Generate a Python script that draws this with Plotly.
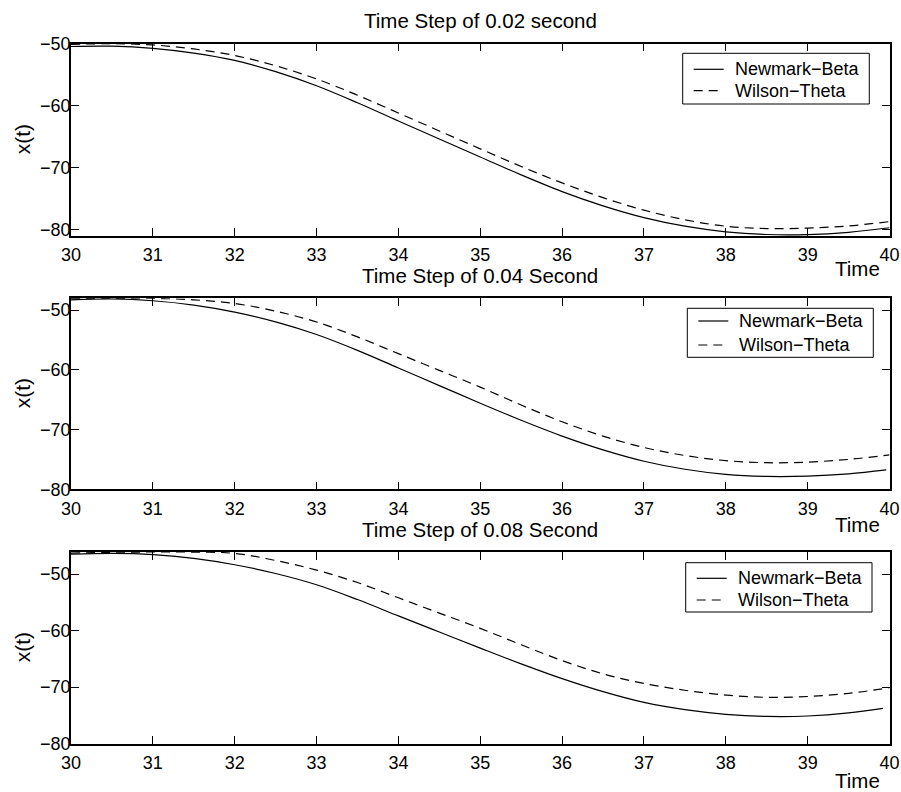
import plotly.graph_objects as go

# Time samples (s) at which the responses are tabulated
t = [30.0, 30.5, 31.0, 31.5, 32.0, 32.5, 33.0, 33.5, 34.0, 34.5, 35.0,
     35.5, 36.0, 36.5, 37.0, 37.5, 38.0, 38.5, 39.0, 39.5, 40.0]

# dt = 0.02 s
newmark_002 = [-50.45, -50.4, -50.75, -51.52, -52.7, -54.51, -56.8, -59.55, -62.5, -65.4, -68.3,
               -71.2, -73.9, -76.2, -78.1, -79.49, -80.4, -80.84, -80.85, -80.49, -79.75]
wilson_002 = [-50.1, -50.0, -50.2, -50.85, -51.9, -53.56, -55.7, -58.32, -61.2, -64.1, -67.0,
              -69.84, -72.5, -74.88, -76.9, -78.46, -79.5, -79.88, -79.8, -79.45, -78.75]

# dt = 0.04 s
t_nb_004 = [30.0, 30.5, 31.0, 31.5, 32.0, 32.5, 33.0, 33.5, 34.0, 34.5, 35.0,
            35.5, 36.0, 36.5, 37.0, 37.5, 38.0, 38.5, 39.0, 39.5, 39.96]
newmark_004 = [-48.3, -48.15, -48.45, -49.18, -50.35, -51.99, -54.1, -56.75, -59.7, -62.65, -65.6,
               -68.45, -71.1, -73.4, -75.3, -76.64, -77.5, -77.85, -77.8, -77.42, -76.75]
wilson_004 = [-48.1, -48.05, -48.05, -48.3, -48.9, -50.2, -52.0, -54.5, -57.3, -60.1, -62.9,
              -65.9, -68.7, -71.1, -73.0, -74.35, -75.2, -75.55, -75.45, -75.0, -74.25]

# dt = 0.08 s
t_nb_008 = [30.0, 30.5, 31.0, 31.5, 32.0, 32.5, 33.0, 33.5, 34.0, 34.5, 35.0,
            35.5, 36.0, 36.5, 37.0, 37.5, 38.0, 38.5, 39.0, 39.5, 39.92]
newmark_008 = [-46.5, -46.35, -46.55, -47.23, -48.35, -49.9, -51.9, -54.51, -57.4, -60.25, -63.1,
               -65.89, -68.5, -70.8, -72.7, -73.99, -74.8, -75.17, -75.1, -74.56, -73.75]
wilson_008 = [-46.3, -46.15, -46.1, -46.12, -46.35, -47.6, -49.3, -51.5, -54.2, -56.9, -59.6,
              -62.5, -65.3, -67.65, -69.35, -70.55, -71.4, -71.8, -71.65, -71.1, -70.1]

titles = ["Time Step of 0.02 second", "Time Step of 0.04 Second", "Time Step of 0.08 Second"]
series_names = ["Newmark\u2212Beta", "Wilson\u2212Theta"]
x_ticks = [30, 31, 32, 33, 34, 35, 36, 37, 38, 39, 40]
y_ticks = [-80, -70, -60, -50]
y_ranges = [[-81.08, -50.0], [-80.0, -48.04], [-80.0, -46.1]]

W, H = 901, 792
FONT = "Liberation Sans, Arial, Helvetica, sans-serif"
DASH = "9px,6px"

# Axes boxes in pixels: (left, right, top, bottom)
boxes = [(71, 889.5, 43.7, 236.0), (71, 889.5, 298.3, 489.3), (71, 889.5, 552.0, 743.7)]
# Legend boxes in pixels: (left, right, top, bottom, first-row y, second-row y)
legend_boxes = [(682.7, 869.3, 53.3, 104.0, 69.3, 90.7),
                (687.3, 873.3, 308.3, 357.3, 321.0, 345.0),
                (685.7, 872.0, 562.7, 612.0, 578.3, 600.0)]
title_y = [21, 275, 529]
time_y = [268, 524, 780]


def px(x):
    return x / W


def py(y):
    return 1 - y / H


panels = [
    (t, newmark_002, t, wilson_002),
    (t_nb_004, newmark_004, t, wilson_004),
    (t_nb_008, newmark_008, t, wilson_008),
]

fig = go.Figure()
annotations = []
shapes = []
layout = dict(
    width=W, height=H, autosize=False,
    margin=dict(l=0, r=0, t=0, b=0, pad=0),
    paper_bgcolor="white", plot_bgcolor="white",
    font=dict(family=FONT, size=18, color="black"),
    showlegend=False,
)

for i, (tn, yn, tw, yw) in enumerate(panels):
    k = "" if i == 0 else str(i + 1)
    fig.add_trace(go.Scatter(
        x=tn, y=yn, mode="lines", name=series_names[0],
        line=dict(color="black", width=1.2, shape="spline", smoothing=1.0),
        xaxis=f"x{k}", yaxis=f"y{k}",
    ))
    fig.add_trace(go.Scatter(
        x=tw, y=yw, mode="lines", name=series_names[1],
        line=dict(color="black", width=1.2, dash=DASH, shape="spline", smoothing=1.0),
        xaxis=f"x{k}", yaxis=f"y{k}",
    ))

    left, right, top, bottom = boxes[i]
    axis_common = dict(
        showline=True, linecolor="black", linewidth=1.5, mirror="ticks",
        ticks="inside", ticklen=8, tickwidth=1, tickcolor="black",
        showgrid=False, zeroline=False, automargin=False,
        tickfont=dict(family=FONT, size=18, color="black"),
    )
    layout[f"xaxis{k}"] = dict(
        axis_common, domain=[px(left), px(right)], range=[30, 40],
        tickvals=x_ticks, anchor=f"y{k}", ticklabelstandoff=2,
    )
    layout[f"yaxis{k}"] = dict(
        axis_common, domain=[py(bottom), py(top)], range=y_ranges[i],
        tickvals=y_ticks, anchor=f"x{k}", ticklabelstandoff=-5,
    )

    # Legend: framed box with a line sample and label per series
    lx0, lx1, ly0, ly1, r1, r2 = legend_boxes[i]
    shapes.append(dict(type="rect", xref="paper", yref="paper",
                       x0=px(lx0), x1=px(lx1), y0=py(ly1), y1=py(ly0),
                       line=dict(color="black", width=1), fillcolor="white", layer="above"))
    for row_y, name, dash in ((r1, series_names[0], "solid"), (r2, series_names[1], DASH)):
        shapes.append(dict(type="line", xref="paper", yref="paper",
                           x0=px(lx0 + 11), x1=px(lx0 + 41), y0=py(row_y), y1=py(row_y),
                           line=dict(color="black", width=1.2, dash=dash), layer="above"))
        annotations.append(dict(
            text=name, x=px(lx0 + 50), y=py(row_y), xref="paper", yref="paper",
            xanchor="left", yanchor="middle", showarrow=False,
            font=dict(family=FONT, size=18, color="black"),
        ))

    annotations.append(dict(
        text=titles[i], x=px((left + right) / 2), y=py(title_y[i]),
        xref="paper", yref="paper", xanchor="center", yanchor="middle",
        showarrow=False, font=dict(family=FONT, size=20.5, color="black"),
    ))
    annotations.append(dict(
        text="Time", x=px(857), y=py(time_y[i]),
        xref="paper", yref="paper", xanchor="center", yanchor="middle",
        showarrow=False, font=dict(family=FONT, size=20.5, color="black"),
    ))
    annotations.append(dict(
        text="x(t)", x=px(22.5), y=py((top + bottom) / 2),
        xref="paper", yref="paper", xanchor="center", yanchor="middle",
        textangle=-90, showarrow=False,
        font=dict(family=FONT, size=21, color="black"),
    ))

layout["annotations"] = annotations
layout["shapes"] = shapes
fig.update_layout(**layout)

fig.write_html("out.html")
